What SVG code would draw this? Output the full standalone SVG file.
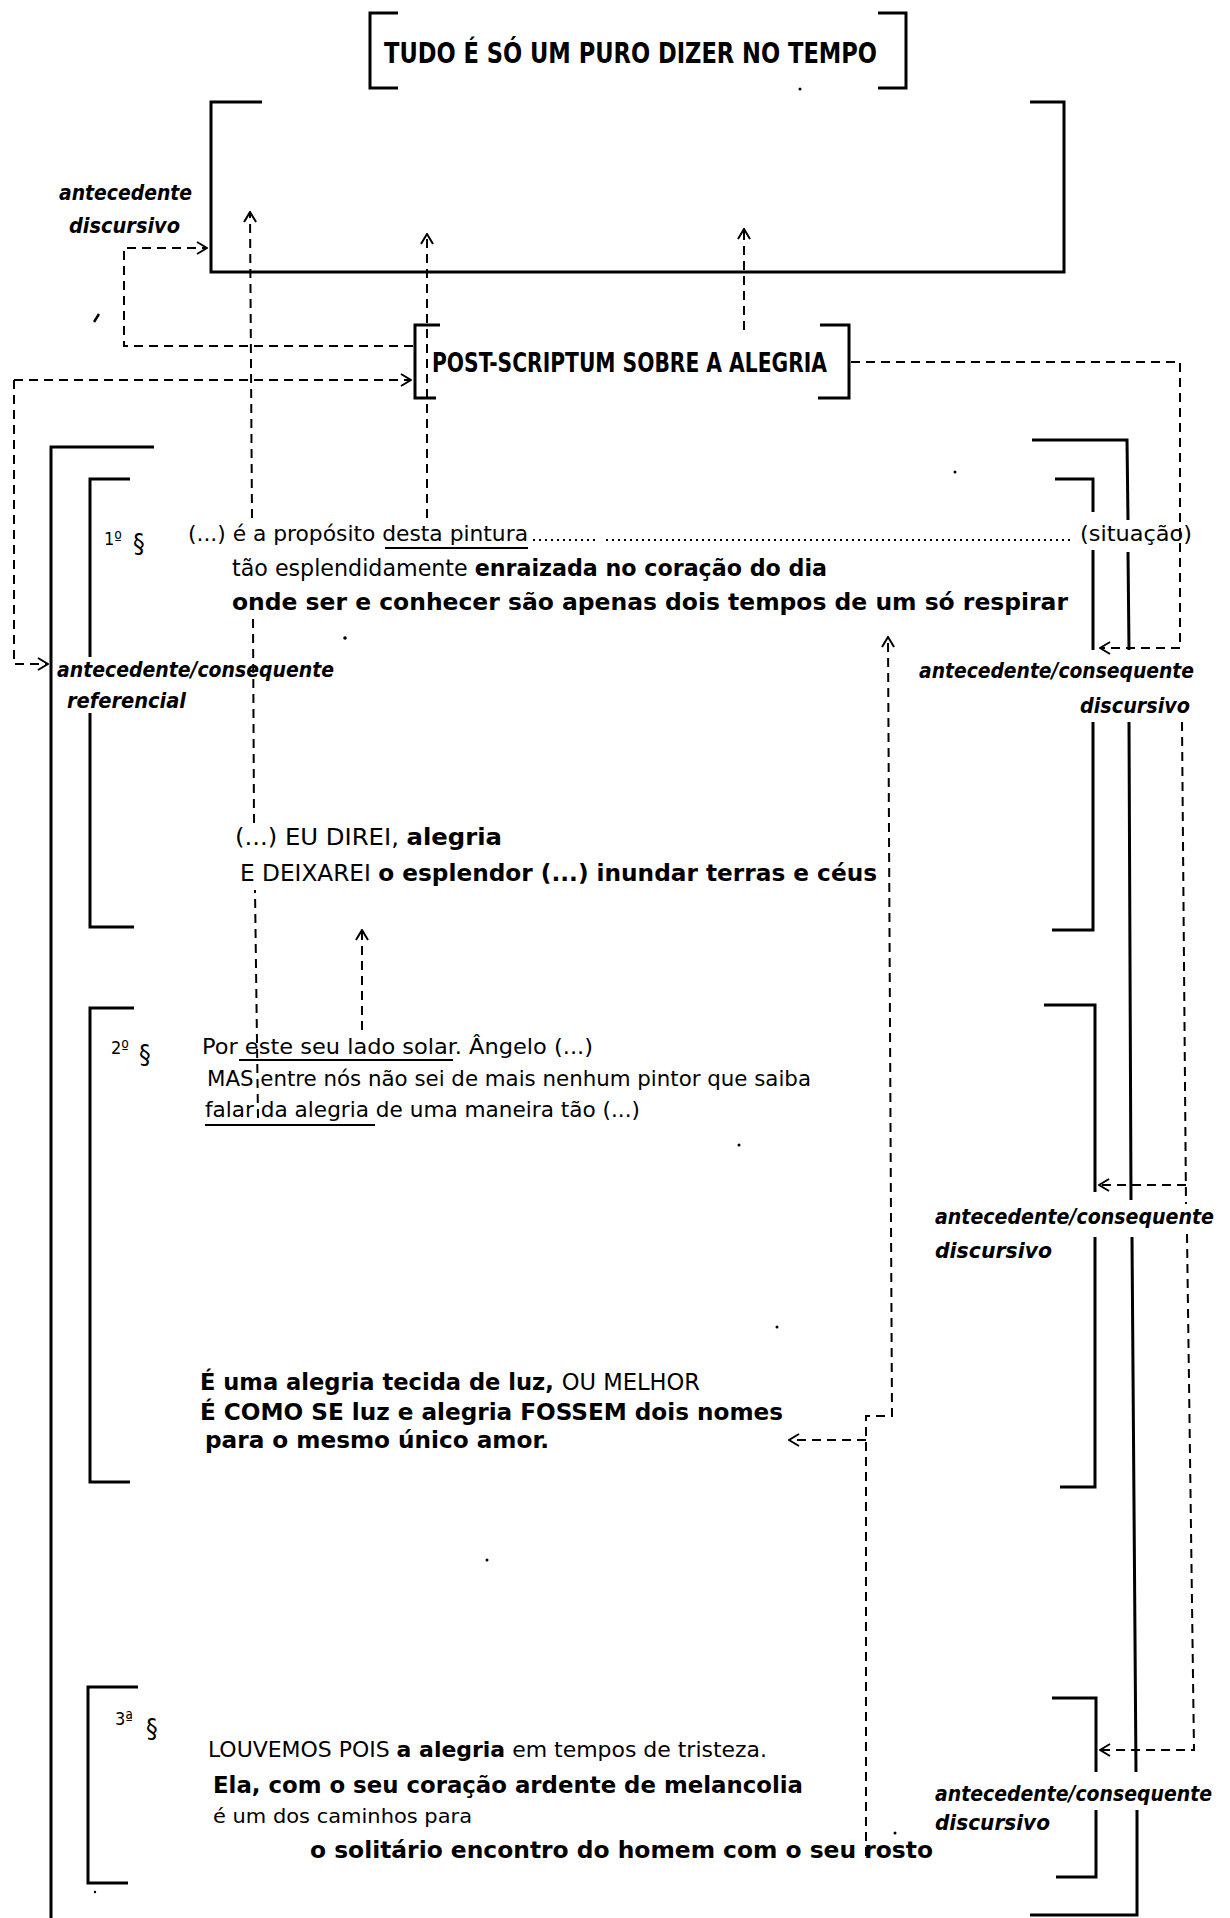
<svg xmlns="http://www.w3.org/2000/svg" width="1230" height="1918" viewBox="0 0 1230 1918">
<defs>
<marker id="ah" viewBox="0 0 12 14" refX="11" refY="7" markerWidth="12" markerHeight="14" markerUnits="userSpaceOnUse" orient="auto"><path d="M1,1 L11,7 L1,13" fill="none" stroke="#000" stroke-width="2"/></marker>
</defs>
<style>
.br{fill:none;stroke:#000;stroke-width:3}
.dl{fill:none;stroke:#000;stroke-width:2;stroke-dasharray:9 6}
.dot{stroke:#000;stroke-width:2;stroke-dasharray:2 4}
.ul{stroke:#000;stroke-width:2}
.t{font-family:"DejaVu Sans Condensed","DejaVu Sans","Liberation Sans",sans-serif;font-stretch:condensed;fill:#000}
.b{font-weight:bold}
.n{font-weight:normal}
.lab{font-style:italic;font-weight:bold;font-size:21px}
.sp{fill:#000}
</style>
<rect width="1230" height="1918" fill="#fff"/>

<g id="title">
<path class="br" d="M398,13 H370 V88 H398"/>
<path class="br" d="M878,13 H906 V88 H878"/>
<text class="t b" x="384" y="63" font-size="29" textLength="493" lengthAdjust="spacingAndGlyphs">TUDO É SÓ UM PURO DIZER NO TEMPO</text>
</g>

<g id="discourse-box">
<path class="br" d="M262,102 H211 V272 H1064 V102 H1030"/>
</g>

<g id="post-scriptum">
<path class="br" d="M440,325 H415 V398 H436"/>
<path class="br" d="M820,325 H849 V398 H818"/>
<text class="t b" x="432" y="372" font-size="27" textLength="395" lengthAdjust="spacingAndGlyphs">POST-SCRIPTUM SOBRE A ALEGRIA</text>
</g>

<g id="label-antecedente-discursivo">
<text class="t lab" x="59" y="200" textLength="133" lengthAdjust="spacingAndGlyphs">antecedente</text>
<text class="t lab" x="69" y="233" textLength="111" lengthAdjust="spacingAndGlyphs">discursivo</text>
</g>

<g id="text-bracket">
<path class="br" d="M154,447 H51 V1918"/>
<path class="br" d="M1032,440 H1127 L1128,520 M1128,552 L1129,650 M1129,722 L1131,1200 M1132,1237 L1136,1772 M1137,1810 L1137,1915 H1030"/>
</g>

<g id="para1">
<path class="br" d="M130,479 H90 V657 M90,713 V927 H134"/>
<path class="br" d="M1055,479 H1093 V512 M1093,550 V650 M1093,722 V930 H1052"/>
<text class="t n" x="104" y="545" font-size="18">1º</text>
<text class="t n" x="133" y="553" font-size="26">§</text>
<text class="t n" x="188" y="541" font-size="21" textLength="340" lengthAdjust="spacingAndGlyphs">(...) é a propósito desta pintura</text>
<line class="ul" x1="385" y1="548" x2="528" y2="548"/>
<line class="dot" x1="533" y1="540" x2="597" y2="540"/>
<line class="dot" x1="606" y1="540" x2="1072" y2="540"/>
<text class="t n" x="1080" y="541" font-size="21" textLength="112" lengthAdjust="spacingAndGlyphs">(situação)</text>
<text class="t" x="232" y="576" font-size="23" textLength="595" lengthAdjust="spacingAndGlyphs"><tspan class="n">tão esplendidamente </tspan><tspan class="b">enraizada no coração do dia</tspan></text>
<text class="t b" x="232" y="610" font-size="23" textLength="836" lengthAdjust="spacingAndGlyphs">onde ser e conhecer são apenas dois tempos de um só respirar</text>
<text class="t" x="235" y="845" font-size="23" textLength="267" lengthAdjust="spacingAndGlyphs"><tspan class="n">(...) EU DIREI, </tspan><tspan class="b">alegria</tspan></text>
<text class="t" x="240" y="881" font-size="23" textLength="637" lengthAdjust="spacingAndGlyphs"><tspan class="n">E DEIXAREI </tspan><tspan class="b">o esplendor (...) inundar terras e céus</tspan></text>
</g>

<g id="para2">
<path class="br" d="M134,1008 H90 V1482 H130"/>
<path class="br" d="M1044,1005 H1095 V1192 M1095,1237 V1487 H1060"/>
<text class="t n" x="111" y="1054" font-size="18">2º</text>
<text class="t n" x="139" y="1064" font-size="26">§</text>
<text class="t n" x="202" y="1054" font-size="21" textLength="391" lengthAdjust="spacingAndGlyphs">Por este seu lado solar. Ângelo (...)</text>
<line class="ul" x1="239" y1="1060" x2="453" y2="1060"/>
<text class="t n" x="207" y="1086" font-size="21" textLength="604" lengthAdjust="spacingAndGlyphs">MAS entre nós não sei de mais nenhum pintor que saiba</text>
<text class="t n" x="205" y="1117" font-size="21" textLength="435" lengthAdjust="spacingAndGlyphs">falar da alegria de uma maneira tão (...)</text>
<line class="ul" x1="205" y1="1125" x2="375" y2="1125"/>
<text class="t" x="200" y="1390" font-size="23" textLength="500" lengthAdjust="spacingAndGlyphs"><tspan class="b">É uma alegria tecida de luz, </tspan><tspan class="n">OU MELHOR</tspan></text>
<text class="t b" x="200" y="1420" font-size="23" textLength="583" lengthAdjust="spacingAndGlyphs">É COMO SE luz e alegria FOSSEM dois nomes</text>
<text class="t b" x="205" y="1448" font-size="23" textLength="344" lengthAdjust="spacingAndGlyphs">para o mesmo único amor.</text>
</g>

<g id="para3">
<path class="br" d="M138,1687 H88 V1883 H128"/>
<path class="br" d="M1052,1698 H1096 V1772 M1096,1810 V1877 H1056"/>
<text class="t n" x="115" y="1725" font-size="18">3ª</text>
<text class="t n" x="146" y="1738" font-size="26">§</text>
<text class="t" x="208" y="1757" font-size="21" textLength="559" lengthAdjust="spacingAndGlyphs"><tspan class="n">LOUVEMOS POIS </tspan><tspan class="b">a alegria</tspan><tspan class="n"> em tempos de tristeza.</tspan></text>
<text class="t b" x="213" y="1793" font-size="23" textLength="590" lengthAdjust="spacingAndGlyphs">Ela, com o seu coração ardente de melancolia</text>
<text class="t n" x="213" y="1823" font-size="20" textLength="259" lengthAdjust="spacingAndGlyphs">é um dos caminhos para</text>
<text class="t b" x="310" y="1858" font-size="23" textLength="623" lengthAdjust="spacingAndGlyphs">o solitário encontro do homem com o seu rosto</text>
</g>

<g id="label-referencial">
<text class="t lab" x="57" y="677" textLength="277" lengthAdjust="spacingAndGlyphs">antecedente/consequente</text>
<text class="t lab" x="67" y="708" textLength="119" lengthAdjust="spacingAndGlyphs">referencial</text>
</g>
<g id="label-discursivo-1">
<text class="t lab" x="919" y="678" textLength="275" lengthAdjust="spacingAndGlyphs">antecedente/consequente</text>
<text class="t lab" x="1080" y="713" textLength="110" lengthAdjust="spacingAndGlyphs">discursivo</text>
</g>
<g id="label-discursivo-2">
<text class="t lab" x="935" y="1224" textLength="279" lengthAdjust="spacingAndGlyphs">antecedente/consequente</text>
<text class="t lab" x="935" y="1258" textLength="117" lengthAdjust="spacingAndGlyphs">discursivo</text>
</g>
<g id="label-discursivo-3">
<text class="t lab" x="935" y="1801" textLength="277" lengthAdjust="spacingAndGlyphs">antecedente/consequente</text>
<text class="t lab" x="935" y="1830" textLength="115" lengthAdjust="spacingAndGlyphs">discursivo</text>
</g>

<g id="connectors">
<path class="dl" d="M413,346 H124 V248 H207" marker-end="url(#ah)"/>
<path class="dl" d="M14,380 H411" marker-end="url(#ah)"/>
<path class="dl" d="M14,380 V664 H48" marker-end="url(#ah)"/>
<path class="dl" d="M851,362 H1180 V648 H1100" marker-end="url(#ah)"/>
<path class="dl" d="M1182,722 L1186,1204"/>
<path class="dl" d="M1186,1185 H1099" marker-end="url(#ah)"/>
<path class="dl" d="M1187,1234 L1194,1750 H1100" marker-end="url(#ah)"/>
<path class="dl" d="M427,518 V234" marker-end="url(#ah)"/>
<path class="dl" d="M744,330 V229" marker-end="url(#ah)"/>
<path class="dl" d="M258,1118 L255,890"/>
<path class="dl" d="M254,823 L253,614"/>
<path class="dl" d="M252,518 L250,212" marker-end="url(#ah)"/>
<path class="dl" d="M362,1030 V930" marker-end="url(#ah)"/>
<path class="dl" d="M866,1856 V1416 H892 L888,637" marker-end="url(#ah)"/>
<path class="dl" d="M866,1440 H789" marker-end="url(#ah)"/>
</g>

<g id="specks">
<circle class="sp" cx="800" cy="89" r="1.5"/>
<circle class="sp" cx="955" cy="472" r="1.5"/>
<circle class="sp" cx="345" cy="638" r="1.8"/>
<circle class="sp" cx="739" cy="1145" r="1.5"/>
<circle class="sp" cx="777" cy="1327" r="1.5"/>
<circle class="sp" cx="487" cy="1560" r="1.5"/>
<circle class="sp" cx="895" cy="1833" r="1.5"/>
<circle class="sp" cx="95" cy="1892" r="1.2"/>
<line x1="94" y1="322" x2="99" y2="314" stroke="#000" stroke-width="2.5"/>
</g>
</svg>
